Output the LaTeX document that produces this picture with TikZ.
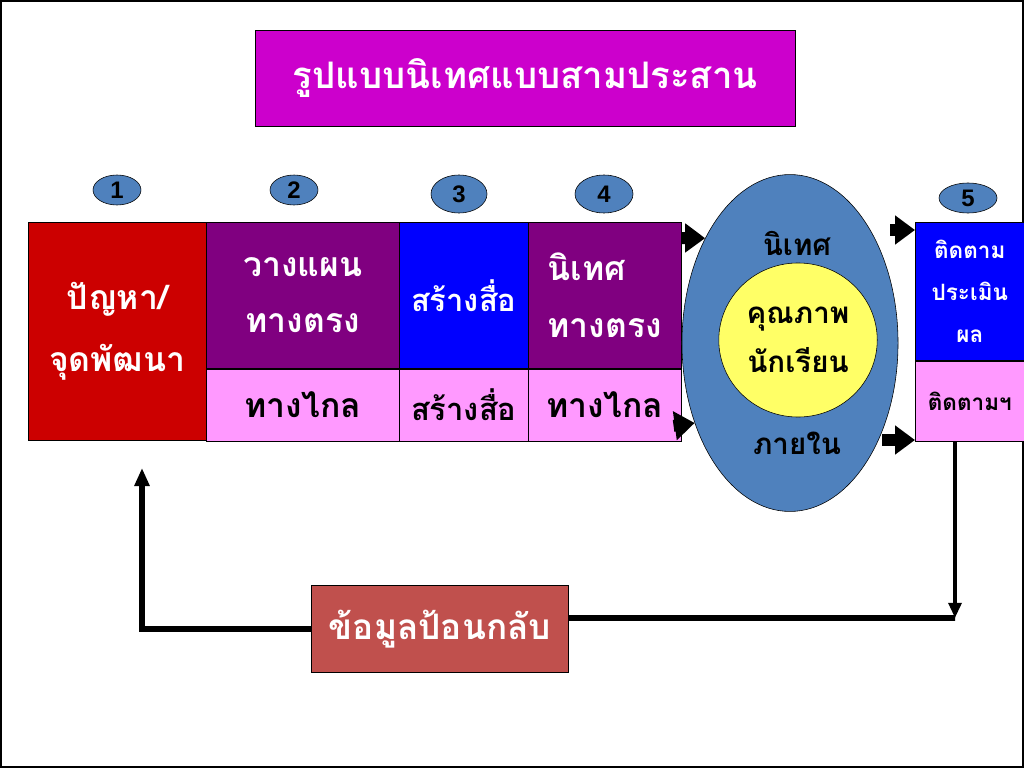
\documentclass[tikz,border=0pt]{standalone}
\usepackage{fontspec}
\setmainfont{Liberation Sans}
\newfontfamily\thai[Script=Thai]{Loma}
\usepackage{tikz}
\usetikzlibrary{positioning,shapes.geometric,arrows.meta}

\definecolor{titlemag}{HTML}{CC00CC}
\definecolor{steel}{HTML}{4F81BD}
\definecolor{probred}{HTML}{CC0000}
\definecolor{deeppurple}{HTML}{800080}
\definecolor{lightpink}{HTML}{FF99FF}
\definecolor{pureblue}{HTML}{0000FF}
\definecolor{paleyellow}{HTML}{FFFF66}
\definecolor{fbred}{HTML}{C0504D}

\tikzset{
	box/.style 2 args={rectangle, draw=black, minimum width=#1*0.025cm, minimum height=#2*0.025cm, anchor=north west, inner sep=0pt, align=center},
	big/.style={font=\thai\bfseries\fontsize{24}{40}\selectfont},
	small/.style={font=\thai\bfseries\fontsize{16}{30}\selectfont},
	num/.style 2 args={ellipse, draw=black, fill=steel, minimum width=#1*0.025cm, minimum height=#2*0.025cm, inner sep=0pt, font=\bfseries\fontsize{17}{17}\selectfont},
	blockarrow/.style={line width=0.3cm, -{Triangle[length=0.5cm,width=0.7cm]}},
	fbline/.style={line width=0.14cm},
}

\begin{document}
\begin{tikzpicture}[x=0.025cm,y=-0.025cm]
		\useasboundingbox (0,0) rectangle (1024,768);
		\draw[line width=0.1cm] (0,0) rectangle (1024,768);
		
		\node[box={540}{96}, fill=titlemag, text=white, font=\thai\bfseries\fontsize{26}{26}\selectfont] (title) at (255,30) {รูปแบบนิเทศแบบสามประสาน};
		
		% the five steps
		\node[box={178}{218}, fill=probred, text=white, font=\thai\bfseries\fontsize{24}{44}\selectfont] (prob) at (28,222) {ปัญหา/\\จุดพัฒนา};
		\node[box={193}{146}, fill=deeppurple, text=white, big] (plan) at (206,222) {วางแผน\\ทางตรง};
		\node[box={193}{72}, fill=lightpink, big, below=0cm of plan] (far2) {ทางไกล};
		\node[box={129}{146}, fill=pureblue, text=white, font=\thai\bfseries\fontsize{22}{22}\selectfont] (media) at (399,222) {สร้างสื่อ};
		\node[box={129}{72}, fill=lightpink, font=\thai\bfseries\fontsize{22}{22}\selectfont, below=0cm of media] (far3) {สร้างสื่อ};
		\node[box={153}{146}, fill=deeppurple, text=white, big, align=left] (sup) at (528,222) {นิเทศ\\ทางตรง};
		\node[box={153}{72}, fill=lightpink, big, below=0cm of sup] (far4) {ทางไกล};
		\node[box={109}{138}, fill=pureblue, text=white, small] (eval) at (915,222) {ติดตาม\\ประเมิน\\ผล};
		\node[box={109}{80}, fill=lightpink, small, below=0cm of eval] (track) {ติดตามฯ};
		
		% the ring
		\node[ellipse, draw=black, fill=steel, minimum width=5.4cm, minimum height=8.42cm] (ring) at (790,343) {};
		\node[ellipse, draw=black, fill=paleyellow, minimum width=3.425cm, minimum height=3.85cm, align=center, font=\thai\bfseries\fontsize{21}{35}\selectfont] (qual) at (798,340) {คุณภาพ\\นักเรียน};
		\node[font=\thai\bfseries\fontsize{21}{21}\selectfont] (rtop) at (797,243) {นิเทศ};
		\node[font=\thai\bfseries\fontsize{21}{21}\selectfont] (rbot) at (797,443) {ภายใน};
		
		% numbers
		\node[num={48}{30}] (n1) at (117,190) {1};
		\node[num={48}{30}] (n2) at (294,190) {2};
		\node[num={56}{38}] (n3) at (459,194) {3};
		\node[num={58}{38}] (n4) at (604,194) {4};
		\node[num={58}{30}] (n5) at (968,198) {5};
		
		% arrows
		\draw[blockarrow] ([yshift=-0.4cm]sup.north east) -- (ring.129);
		\draw[blockarrow] ([xshift=-0.2cm,yshift=-0.525cm]far4.east) -- (ring.220);
		\coordinate (r1) at (890,230);
		\coordinate (r2) at (882,440);
		\draw[blockarrow] (r1) -- (r1 -| eval.west);
		\draw[blockarrow] (r2) -- (r2 -| track.west);
		
		% feedback
		\node[box={257}{87}, fill=fbred, text=white, anchor=center, font=\thai\bfseries\fontsize{25}{25}\selectfont] (fb) at (440,629) {ข้อมูลป้อนกลับ};
		\coordinate (fbr) at (955,618);
		\coordinate (up) at (142,468);
		\draw[line width=0.1cm, -{Triangle[length=0.38cm,width=0.32cm]}] (track.south -| fbr) -- (fbr);
		\draw[fbline] ([yshift=0.275cm]fb.east) -- (fbr);
		\draw[fbline, -{Triangle[length=0.45cm,width=0.36cm]}] (fb.west) -| (up);
	\end{tikzpicture}
\end{document}
